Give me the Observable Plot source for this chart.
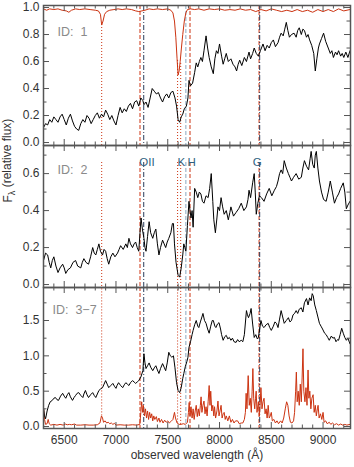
<!DOCTYPE html>
<html><head><meta charset="utf-8">
<script src="https://cdn.jsdelivr.net/npm/d3@7"></script>
<script src="https://cdn.jsdelivr.net/npm/@observablehq/plot@0.6"></script>
<style>
body{margin:0;background:#fff;}
#chart svg{display:block;overflow:visible;}
</style></head><body><div id="chart"></div>
<script>
// ---------- data ----------
const xTickLabels = [6500, 7000, 7500, 8000, 8500, 9000];
const yTicks1 = [0, 0.2, 0.4, 0.6, 0.8, 1.0];
const yMinor1 = [0.1, 0.3, 0.5, 0.7, 0.9];
const yTicks2 = [0, 0.2, 0.4, 0.6];
const yMinor2 = [0.1, 0.3, 0.5, 0.7];
const yTicks3 = [0, 0.5, 1.0, 1.5];
const yMinor3 = [0.25, 0.75, 1.25, 1.75];
const panelIds = ["ID:  1", "ID:  2", "ID:  3\u22127"];
const telluricLines = [6862, 7595, 7625];
const redDashedLines = [7232, 7715, 8382];
const navyDashedLines = [7268, 8388];
const blueDashedLines = [7675];
const featureNames = ["OII", "K", "H", "G"];
const featureWaves = [7300, 7630, 7730, 8364];

const spec1 = [[6300,.11],[6320,.14],[6340,.13],[6360,.17],[6380,.15],[6400,.19],[6420,.17],[6440,.15],[6460,.19],[6480,.21],[6500,.17],[6520,.13],[6540,.18],[6560,.21],[6580,.16],[6600,.12],[6620,.1],[6640,.09],[6660,.14],[6680,.17],[6700,.15],[6720,.2],[6740,.18],[6760,.14],[6780,.17],[6800,.2],[6820,.22],[6840,.18],[6860,.21],[6880,.19],[6900,.24],[6920,.21],[6940,.17],[6960,.2],[6980,.16],[7000,.13],[7020,.2],[7040,.26],[7060,.22],[7080,.25],[7100,.23],[7120,.27],[7140,.29],[7160,.25],[7180,.3],[7200,.31],[7220,.27],[7240,.33],[7260,.31],[7270,.28],[7290,.3],[7310,.26],[7330,.33],[7350,.4],[7370,.38],[7390,.36],[7410,.37],[7430,.33],[7450,.3],[7470,.34],[7490,.36],[7510,.33],[7530,.37],[7550,.38],[7570,.33],[7585,.27],[7600,.17],[7615,.15],[7630,.19],[7645,.21],[7660,.25],[7680,.27],[7695,.33],[7705,.46],[7720,.42],[7740,.44],[7760,.52],[7775,.59],[7790,.56],[7805,.6],[7820,.63],[7835,.6],[7850,.68],[7870,.79],[7885,.7],[7900,.63],[7920,.56],[7940,.51],[7955,.62],[7970,.68],[7985,.66],[8000,.73],[8020,.64],[8035,.58],[8050,.62],[8065,.66],[8085,.6],[8110,.62],[8130,.58],[8150,.56],[8165,.53],[8180,.58],[8195,.61],[8215,.57],[8240,.63],[8260,.6],[8285,.67],[8300,.62],[8320,.66],[8335,.7],[8355,.66],[8375,.64],[8395,.68],[8420,.73],[8440,.68],[8460,.72],[8480,.7],[8500,.74],[8520,.76],[8540,.71],[8565,.74],[8580,.78],[8595,.81],[8615,.79],[8630,.84],[8645,.89],[8660,.83],[8675,.78],[8695,.8],[8720,.81],[8740,.78],[8755,.83],[8770,.85],[8790,.8],[8805,.84],[8820,.83],[8840,.78],[8855,.8],[8870,.76],[8890,.72],[8910,.66],[8925,.53],[8940,.62],[8955,.7],[8965,.73],[8985,.77],[9005,.81],[9025,.75],[9050,.7],[9070,.66],[9085,.68],[9100,.63],[9120,.67],[9135,.65],[9150,.68],[9170,.64],[9185,.66],[9200,.63],[9220,.67],[9240,.63],[9260,.68]];

const trans1 = [[6300,.99],[6330,.98],[6360,.99],[6400,.985],[6440,.99],[6480,.98],[6520,.975],[6545,.965],[6570,.98],[6610,.99],[6650,.985],[6700,.99],[6750,.985],[6800,.98],[6830,.975],[6850,.95],[6862,.87],[6875,.9],[6890,.95],[6910,.97],[6940,.98],[6980,.985],[7020,.99],[7060,.985],[7100,.99],[7150,.985],[7190,.975],[7220,.97],[7250,.975],[7280,.98],[7320,.99],[7360,.985],[7400,.99],[7450,.985],[7500,.99],[7530,.98],[7550,.96],[7565,.9],[7578,.78],[7590,.62],[7600,.5],[7610,.53],[7620,.6],[7632,.7],[7645,.8],[7660,.9],[7675,.96],[7690,.985],[7720,.99],[7760,.985],[7800,.99],[7850,.98],[7900,.99],[7950,.985],[8000,.99],[8050,.98],[8100,.985],[8150,.98],[8200,.99],[8250,.98],[8300,.985],[8350,.97],[8400,.985],[8450,.975],[8500,.99],[8550,.98],[8600,.97],[8650,.98],[8700,.97],[8750,.985],[8800,.97],[8850,.98],[8900,.965],[8950,.985],[9000,.97],[9050,.985],[9100,.97],[9150,.99],[9200,.975],[9260,.985]];

const spec2 = [[6300,.13],[6320,.17],[6340,.16],[6355,.12],[6370,.09],[6385,.13],[6400,.15],[6420,.1],[6440,.065],[6460,.09],[6485,.11],[6500,.09],[6515,.06],[6535,.08],[6560,.09],[6585,.12],[6610,.13],[6630,.1],[6660,.09],[6675,.12],[6690,.14],[6710,.12],[6735,.11],[6755,.15],[6775,.2],[6790,.17],[6805,.16],[6820,.19],[6835,.22],[6850,.18],[6870,.16],[6885,.19],[6900,.18],[6915,.14],[6930,.11],[6950,.15],[6970,.17],[6990,.15],[7015,.17],[7030,.19],[7045,.21],[7070,.19],[7095,.22],[7110,.2],[7125,.25],[7140,.22],[7160,.2],[7175,.22],[7190,.23],[7205,.2],[7220,.18],[7232,.28],[7242,.36],[7255,.3],[7270,.25],[7280,.2],[7290,.18],[7305,.26],[7320,.34],[7335,.28],[7355,.25],[7370,.28],[7385,.3],[7400,.22],[7415,.16],[7430,.2],[7450,.24],[7465,.22],[7480,.2],[7495,.23],[7510,.25],[7530,.28],[7545,.33],[7555,.33],[7565,.22],[7580,.12],[7600,.05],[7615,.04],[7630,.09],[7645,.16],[7655,.22],[7665,.2],[7675,.18],[7690,.32],[7705,.45],[7715,.4],[7725,.36],[7735,.4],[7745,.31],[7760,.52],[7775,.5],[7790,.47],[7805,.5],[7820,.49],[7835,.45],[7850,.44],[7870,.48],[7890,.47],[7905,.52],[7920,.6],[7935,.45],[7945,.35],[7960,.28],[7975,.36],[7985,.42],[8000,.4],[8015,.47],[8030,.42],[8045,.38],[8065,.4],[8085,.35],[8100,.39],[8110,.42],[8135,.37],[8160,.39],[8185,.41],[8210,.44],[8235,.4],[8260,.42],[8275,.46],[8285,.51],[8300,.47],[8320,.55],[8335,.6],[8345,.5],[8355,.38],[8370,.44],[8385,.48],[8405,.47],[8430,.45],[8455,.49],[8480,.52],[8505,.48],[8530,.51],[8550,.53],[8565,.56],[8580,.6],[8595,.62],[8610,.6],[8625,.67],[8645,.63],[8665,.6],[8680,.58],[8695,.56],[8715,.58],[8740,.6],[8765,.57],[8790,.58],[8805,.63],[8820,.67],[8840,.64],[8860,.62],[8875,.68],[8885,.72],[8900,.65],[8915,.63],[8925,.7],[8935,.72],[8950,.63],[8965,.56],[8985,.5],[9005,.46],[9030,.45],[9050,.5],[9070,.56],[9090,.5],[9110,.44],[9130,.47],[9150,.49],[9170,.52],[9195,.55],[9210,.5],[9225,.41],[9240,.43],[9260,.45]];

const spec3 = [[6300,.27],[6310,.15],[6320,.11],[6335,.22],[6350,.3],[6365,.35],[6385,.37],[6400,.4],[6415,.41],[6430,.38],[6445,.37],[6465,.43],[6485,.47],[6500,.43],[6515,.4],[6530,.45],[6545,.48],[6560,.42],[6580,.37],[6595,.41],[6610,.44],[6625,.47],[6640,.48],[6660,.44],[6680,.41],[6690,.46],[6705,.51],[6720,.45],[6735,.41],[6755,.45],[6775,.48],[6790,.44],[6805,.41],[6820,.46],[6835,.51],[6850,.53],[6870,.55],[6885,.6],[6900,.65],[6915,.6],[6930,.55],[6950,.58],[6970,.61],[6985,.57],[7000,.54],[7010,.58],[7025,.62],[7045,.58],[7065,.55],[7080,.59],[7095,.62],[7110,.6],[7125,.58],[7140,.62],[7160,.65],[7175,.63],[7190,.61],[7205,.63],[7220,.65],[7240,.7],[7260,.79],[7270,1.03],[7280,.9],[7290,.82],[7305,.86],[7320,.9],[7335,.84],[7355,.79],[7370,.83],[7385,.86],[7400,.8],[7415,.75],[7430,.82],[7450,.89],[7465,.84],[7480,.79],[7495,.9],[7510,1.05],[7525,1.0],[7540,.98],[7555,1.0],[7570,.83],[7585,.62],[7600,.51],[7615,.48],[7630,.55],[7645,.68],[7655,.75],[7670,.85],[7685,.92],[7695,.98],[7705,1.12],[7720,1.2],[7735,1.3],[7745,1.36],[7760,1.44],[7775,1.5],[7790,1.42],[7800,1.4],[7815,1.48],[7830,1.55],[7840,1.6],[7855,1.5],[7870,1.46],[7885,1.38],[7900,1.32],[7915,1.42],[7930,1.5],[7940,1.5],[7955,1.42],[7965,1.4],[7980,1.45],[7995,1.47],[8010,1.38],[8020,1.3],[8035,1.22],[8050,1.27],[8065,1.29],[8080,1.24],[8095,1.26],[8110,1.22],[8125,1.25],[8140,1.2],[8160,1.19],[8175,1.23],[8190,1.2],[8210,1.22],[8225,1.2],[8240,1.3],[8260,1.64],[8270,1.58],[8280,1.54],[8295,1.6],[8305,1.67],[8320,1.45],[8335,1.26],[8350,1.3],[8365,1.24],[8375,1.26],[8390,1.4],[8400,1.5],[8415,1.42],[8430,1.4],[8450,1.44],[8470,1.46],[8485,1.4],[8500,1.36],[8520,1.42],[8535,1.48],[8550,1.46],[8565,1.4],[8580,1.52],[8595,1.64],[8610,1.55],[8625,1.46],[8645,1.5],[8665,1.54],[8680,1.48],[8695,1.5],[8710,1.58],[8725,1.6],[8740,1.64],[8755,1.6],[8770,1.66],[8790,1.68],[8805,1.62],[8820,1.75],[8840,1.81],[8855,1.72],[8870,1.82],[8885,1.78],[8895,1.88],[8905,1.85],[8920,1.72],[8935,1.64],[8950,1.55],[8965,1.46],[8980,1.42],[8995,1.38],[9015,1.32],[9030,1.3],[9045,1.26],[9060,1.22],[9080,1.28],[9095,1.25],[9110,1.26],[9125,1.2],[9140,1.23],[9150,1.22],[9165,1.3],[9180,1.39],[9195,1.32],[9210,1.26],[9225,1.22],[9240,1.25],[9260,1.17]];

const sky3 = [[6300,.27],[6310,.1],[6320,.03],[6335,.04],[6345,.1],[6355,.04],[6370,.02],[6400,.03],[6430,.02],[6460,.03],[6490,.02],[6510,.035],[6530,.025],[6550,.03],[6570,.025],[6600,.035],[6620,.02],[6660,.02],[6700,.025],[6740,.02],[6780,.02],[6820,.025],[6845,.05],[6860,.15],[6870,.12],[6880,.06],[6895,.08],[6910,.05],[6925,.06],[6940,.04],[6955,.05],[6970,.03],[6985,.045],[7000,.02],[7040,.025],[7080,.02],[7120,.02],[7160,.025],[7200,.02],[7230,.03],[7240,.2],[7248,.35],[7258,.2],[7265,.3],[7275,.15],[7285,.25],[7295,.12],[7305,.22],[7315,.1],[7325,.2],[7335,.12],[7345,.18],[7355,.08],[7365,.15],[7375,.1],[7390,.14],[7400,.07],[7415,.12],[7425,.06],[7440,.1],[7455,.05],[7470,.09],[7485,.06],[7500,.08],[7515,.05],[7530,.07],[7550,.1],[7565,.2],[7575,.12],[7590,.05],[7610,.03],[7630,.03],[7650,.04],[7670,.03],[7690,.06],[7700,.2],[7707,.34],[7715,.15],[7725,.28],[7735,.12],[7745,.25],[7755,.1],[7765,.22],[7775,.3],[7785,.14],[7795,.25],[7805,.15],[7815,.3],[7822,.42],[7830,.2],[7840,.3],[7850,.36],[7860,.18],[7870,.28],[7880,.15],[7890,.35],[7900,.58],[7908,.3],[7915,.5],[7925,.22],[7935,.3],[7945,.15],[7952,.28],[7962,.12],[7975,.22],[7985,.36],[7995,.15],[8005,.22],[8015,.3],[8025,.12],[8035,.18],[8045,.2],[8055,.1],[8065,.15],[8080,.08],[8095,.15],[8110,.06],[8125,.1],[8140,.05],[8155,.08],[8175,.08],[8190,.04],[8210,.05],[8225,.05],[8240,.1],[8250,.2],[8257,.47],[8265,.25],[8277,.72],[8287,.3],[8297,.4],[8307,.2],[8315,.5],[8322,.82],[8330,.4],[8340,.25],[8348,.4],[8354,.5],[8362,.2],[8375,.35],[8385,.15],[8392,.3],[8400,.55],[8410,.25],[8420,.35],[8430,.4],[8440,.18],[8450,.25],[8460,.12],[8470,.3],[8480,.12],[8490,.15],[8500,.2],[8510,.08],[8525,.1],[8540,.05],[8555,.08],[8570,.04],[8590,.08],[8605,.05],[8620,.12],[8635,.25],[8648,.35],[8660,.3],[8672,.15],[8685,.06],[8700,.05],[8715,.08],[8725,.2],[8735,.5],[8742,.77],[8750,.35],[8760,.5],[8770,.3],[8780,.6],[8790,.35],[8798,.7],[8806,1.1],[8814,.5],[8825,.35],[8835,.55],[8845,.3],[8855,.8],[8863,.4],[8872,.5],[8882,.25],[8892,.4],[8904,.45],[8914,.2],[8925,.3],[8935,.15],[8945,.25],[8952,.3],[8962,.12],[8975,.18],[8988,.1],[9000,.2],[9010,.06],[9025,.08],[9040,.04],[9060,.06],[9075,.03],[9090,.05],[9110,.025],[9130,.04],[9150,.02],[9170,.035],[9190,.02],[9210,.03],[9230,.02],[9260,.03]];

// ---------- styling ----------
const W = 354, ML = 43, MR = 4;
const xDomain = [6300, 9265];
const RED = "#cc3311", NAVY = "#2b3d5a", LBLUE = "#8aa8c0", AX = "#555", LBL = "#2e5f80";
const font = "'Liberation Sans', Arial, sans-serif";
const nearest = (arr, w) => d3.least(arr, p => Math.abs(p[0] - w))[1];

function panel({height, mt, mb, yDomain, yMajor, yMinor, marks, xLabels}) {
  const ph = height - mt - mb, pw = W - ML - MR;
  const xMajor = d3.range(6500, 9300, 500);
  const xMinor = d3.range(6300, 9300, 100).filter(v => v % 500 !== 0);
  const tk = {stroke: AX, strokeWidth: 1};
  const all = [
    ...marks,
    Plot.tickX(xMajor, {x: d => d, insetTop: ph - 6, ...tk}),
    Plot.tickX(xMajor, {x: d => d, insetBottom: ph - 6, ...tk}),
    Plot.tickX(xMinor, {x: d => d, insetTop: ph - 3.5, ...tk}),
    Plot.tickX(xMinor, {x: d => d, insetBottom: ph - 3.5, ...tk}),
    Plot.tickY(yMajor, {y: d => d, insetRight: pw - 6, ...tk}),
    Plot.tickY(yMajor, {y: d => d, insetLeft: pw - 6, ...tk}),
    Plot.tickY(yMinor, {y: d => d, insetRight: pw - 3.5, ...tk}),
    Plot.tickY(yMinor, {y: d => d, insetLeft: pw - 3.5, ...tk}),
    Plot.frame({stroke: AX, strokeWidth: 1.5}),
    Plot.axisY(yMajor, {anchor: "left", tickSize: 0, tickPadding: 4, tickFormat: d3.format(".1f"), label: null, fontSize: 12, fill: "#333"})
  ];
  if (xLabels) all.push(Plot.text(xLabels, {x: d => d, text: d => String(d), frameAnchor: "bottom", dy: 15, fontSize: 12, fill: "#333"}));
  return Plot.plot({
    width: W, height, marginLeft: ML, marginRight: MR, marginTop: mt, marginBottom: mb,
    x: {domain: xDomain, axis: null},
    y: {domain: yDomain, axis: null},
    style: {fontFamily: font, fontSize: "12px", color: "#333", background: "transparent", overflow: "visible"},
    marks: all
  });
}

const idText = (t, dx, dy) => Plot.text([t], {text: d => d, frameAnchor: "top-left", dx, dy, textAnchor: "start", fill: "#8a8a8a", fontSize: 12.5});

const dom1 = [-0.022, 1.015], dom2 = [-0.016, 0.752], dom3 = [-0.028, 1.967];

const p1 = panel({height: 145, mt: 5, mb: 0, yDomain: dom1, yMajor: yTicks1, yMinor: yMinor1, marks: [
  Plot.ruleX(telluricLines, {x: d => d, y1: dom1[0], y2: d => nearest(trans1, d), stroke: RED, strokeDasharray: "1,2"}),
  Plot.ruleX(redDashedLines, {x: d => d, stroke: RED, strokeDasharray: "4,2"}),
  Plot.ruleX(blueDashedLines, {x: d => d, stroke: LBLUE, strokeDasharray: "4,2"}),
  Plot.ruleX(navyDashedLines, {x: d => d, stroke: NAVY, strokeDasharray: "5,2,1,2"}),
  Plot.line(trans1, {x: d => d[0], y: d => d[1], stroke: RED, strokeWidth: 1, clip: true}),
  Plot.line(spec1, {x: d => d[0], y: d => d[1], stroke: "#000", strokeWidth: 1, clip: true}),
  idText(panelIds[0], 14, 22)
]});

const p2 = panel({height: 142, mt: 0, mb: 0, yDomain: dom2, yMajor: yTicks2, yMinor: yMinor2, marks: [
  Plot.ruleX(telluricLines, {x: d => d, insetTop: 17, stroke: RED, strokeDasharray: "1,2"}),
  Plot.ruleX(redDashedLines, {x: d => d, insetTop: 17, stroke: RED, strokeDasharray: "4,2"}),
  Plot.ruleX(blueDashedLines, {x: d => d, insetTop: 17, stroke: LBLUE, strokeDasharray: "4,2"}),
  Plot.ruleX(navyDashedLines, {x: d => d, insetTop: 17, stroke: NAVY, strokeDasharray: "5,2,1,2"}),
  Plot.line(spec2, {x: d => d[0], y: d => d[1], stroke: "#000", strokeWidth: 1, clip: true}),
  Plot.text(featureNames, {x: (d, i) => featureWaves[i], text: d => d, frameAnchor: "top", dy: 12, fill: LBL, fontSize: 11.5}),
  idText(panelIds[1], 14, 20),
  Plot.text(["F\u03bb (relative flux)"], {text: d => d, frameAnchor: "left", dx: -35, dy: -14, rotate: -90, fill: "#333", fontSize: 12})
]});

const p3 = panel({height: 180, mt: 0, mb: 39, yDomain: dom3, yMajor: yTicks3, yMinor: yMinor3, xLabels: xTickLabels, marks: [
  Plot.ruleX(telluricLines, {x: d => d, y1: d => nearest(sky3, d), y2: dom3[1], stroke: RED, strokeDasharray: "1,2"}),
  Plot.ruleX(redDashedLines, {x: d => d, stroke: RED, strokeDasharray: "4,2"}),
  Plot.ruleX(blueDashedLines, {x: d => d, stroke: LBLUE, strokeDasharray: "4,2"}),
  Plot.ruleX(navyDashedLines, {x: d => d, stroke: NAVY, strokeDasharray: "5,2,1,2"}),
  Plot.line(sky3, {x: d => d[0], y: d => d[1], stroke: RED, strokeWidth: 1, clip: true}),
  Plot.line(spec3, {x: d => d[0], y: d => d[1], stroke: "#000", strokeWidth: 1, clip: true}),
  idText(panelIds[2], 9, 18),
  Plot.text(["observed wavelength (\u00c5)"], {text: d => d, frameAnchor: "bottom", dy: 30, fill: "#333", fontSize: 12})
]});

const chart = document.getElementById("chart");
chart.append(p1, p2, p3);

// subscript lambda in the y-axis title
d3.select(p2).selectAll("text").filter(function() { return this.textContent === "F\u03bb (relative flux)"; })
  .each(function() {
    const t = d3.select(this); t.text(null);
    t.append("tspan").text("F");
    t.append("tspan").attr("dy", "0.3em").attr("font-size", "9px").text("\u03bb");
    t.append("tspan").attr("dy", "-0.3em").text(" (relative flux)");
  });
</script></body></html>
